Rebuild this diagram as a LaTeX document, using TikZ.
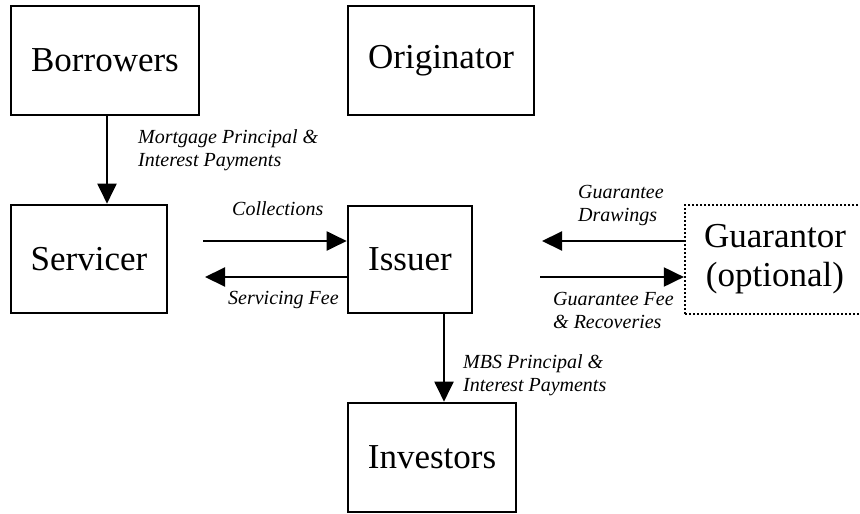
\documentclass[tikz,border=0pt]{standalone}
\usepackage{fontspec}
\setmainfont{Liberation Serif}
\usetikzlibrary{arrows.meta}
\begin{document}
\begin{tikzpicture}[x=1pt,y=-1pt,
  party/.style={draw, line width=2.6pt, rectangle, inner sep=0pt,
    align=center, font=\fontsize{35}{40}\selectfont},
  flow/.style={line width=2pt, -{Triangle[length=20pt,width=19pt]}},
  lbl/.style={font=\fontsize{20}{23}\selectfont\itshape, align=left,
    inner sep=0pt, anchor=base west}]
\useasboundingbox (0,0) rectangle (860,514);

% parties
\node[party, minimum width=188, minimum height=109] (borrowers) at (105,60.5) {Borrowers};
\node[party, minimum width=186, minimum height=109] (originator) at (441,60.5) {Originator};
\node[party, minimum width=156, minimum height=108] (servicer) at (89,259) {Servicer};
\node[party, minimum width=124, minimum height=107] (issuer) at (410,259.5) {Issuer};
\node[party, minimum width=168, minimum height=109] (investors) at (432,457.5) {Investors};
\node[party, dash pattern=on 2pt off 2pt, line width=2.2pt,
      minimum width=180, minimum height=109, text width=180] (guarantor) at (775,259.5)
      {Guarantor\\[-1pt](optional)};

% free ends of the horizontal flows
\coordinate (colStart) at (203,241);
\coordinate (feeEnd) at (205,277);
\coordinate (drawEnd) at (542,241);
\coordinate (gfeeStart) at (540,277);

% flows
\draw[flow] (borrowers.south -| 107,0) -- (servicer.north -| 107,0);
\draw[flow] (colStart) -- (issuer.west |- colStart);
\draw[flow] (issuer.west |- feeEnd) -- (feeEnd);
\draw[flow] (guarantor.west |- drawEnd) -- (drawEnd);
\draw[flow] (gfeeStart) -- (guarantor.west |- gfeeStart);
\draw[flow] (issuer.south -| 444,0) -- (investors.north -| 444,0);

% flow labels (base anchor sits on the last line)
\node[lbl] (l1) at (138,166) {Mortgage Principal \&\\Interest Payments};
\node[lbl] (l2) at (232,215) {Collections};
\node[lbl] (l3) at (228,304) {Servicing Fee};
\node[lbl] (l4) at (578,221) {Guarantee\\Drawings};
\node[lbl] (l5) at (553,328) {Guarantee Fee\\\& Recoveries};
\node[lbl] (l6) at (463,391) {MBS Principal \&\\Interest Payments};
\end{tikzpicture}
\end{document}
